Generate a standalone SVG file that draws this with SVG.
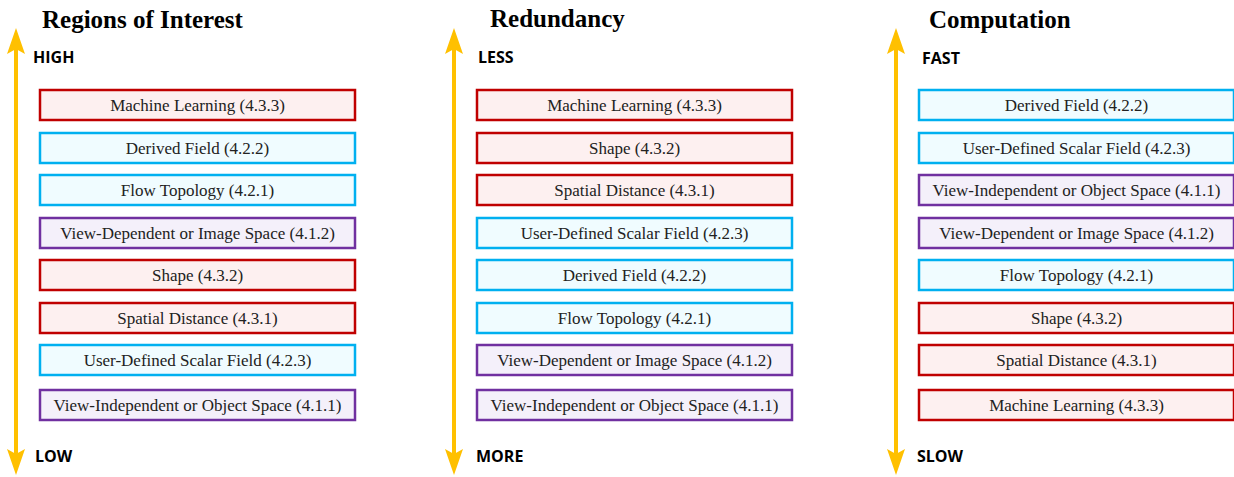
<svg xmlns="http://www.w3.org/2000/svg" width="1234" height="477" viewBox="0 0 1234 477">
<style>
.title{font-family:"Liberation Serif","Times New Roman",serif;font-weight:bold;font-size:25px;fill:#000}
.lab{font-family:"Open Sans","DejaVu Sans",sans-serif;font-weight:bold;font-size:16px;fill:#000}
.box{stroke-width:2.5}
.red{fill:#FDF0F0;stroke:#C00000}
.cyan{fill:#F0FCFF;stroke:#00B0F0}
.purple{fill:#F4F0FA;stroke:#7030A0}
.t{font-family:"Liberation Serif","Times New Roman",serif;font-size:17px;fill:#222;text-anchor:middle}
.axis{stroke:#FFC000;stroke-width:4;fill:none;marker-start:url(#ah);marker-end:url(#ah)}
</style>
<defs>
<marker id="ah" markerUnits="userSpaceOnUse" markerWidth="26" markerHeight="18" viewBox="0 0 26 18" refX="14" refY="9" orient="auto-start-reverse">
<path d="M0,0 L26,9 L0,18 L5,9 Z" fill="#FFC000"/>
</marker>
</defs>
<rect width="1234" height="477" fill="#fff"/>
<g id="connectors">
<line class="axis" x1="16" y1="40" x2="16" y2="463"/>
<line class="axis" x1="454" y1="40" x2="454" y2="463"/>
<line class="axis" x1="896" y1="40" x2="896" y2="463"/>
</g>
<g id="col1">
<text class="title" x="42" y="28">Regions of Interest</text>
<text class="lab" x="33" y="63">HIGH</text>
<text class="lab" x="35" y="462">LOW</text>
<g id="c1n1"><rect class="box red" x="40" y="90" width="315" height="30"/><text class="t" x="197.5" y="111">Machine Learning (4.3.3)</text></g>
<g id="c1n2"><rect class="box cyan" x="40" y="133" width="315" height="30"/><text class="t" x="197.5" y="154">Derived Field (4.2.2)</text></g>
<g id="c1n3"><rect class="box cyan" x="40" y="175" width="315" height="30"/><text class="t" x="197.5" y="196">Flow Topology (4.2.1)</text></g>
<g id="c1n4"><rect class="box purple" x="40" y="218" width="315" height="30"/><text class="t" x="197.5" y="239">View-Dependent or Image Space (4.1.2)</text></g>
<g id="c1n5"><rect class="box red" x="40" y="260" width="315" height="30"/><text class="t" x="197.5" y="281">Shape (4.3.2)</text></g>
<g id="c1n6"><rect class="box red" x="40" y="303" width="315" height="30"/><text class="t" x="197.5" y="324">Spatial Distance (4.3.1)</text></g>
<g id="c1n7"><rect class="box cyan" x="40" y="345" width="315" height="30"/><text class="t" x="197.5" y="366">User-Defined Scalar Field (4.2.3)</text></g>
<g id="c1n8"><rect class="box purple" x="40" y="390" width="315" height="30"/><text class="t" x="197.5" y="411">View-Independent or Object Space (4.1.1)</text></g>
</g>
<g id="col2">
<text class="title" x="490" y="27">Redundancy</text>
<text class="lab" x="478" y="63">LESS</text>
<text class="lab" x="476" y="462">MORE</text>
<g id="c2n1"><rect class="box red" x="477" y="90" width="315" height="30"/><text class="t" x="634.5" y="111">Machine Learning (4.3.3)</text></g>
<g id="c2n2"><rect class="box red" x="477" y="133" width="315" height="30"/><text class="t" x="634.5" y="154">Shape (4.3.2)</text></g>
<g id="c2n3"><rect class="box red" x="477" y="175" width="315" height="30"/><text class="t" x="634.5" y="196">Spatial Distance (4.3.1)</text></g>
<g id="c2n4"><rect class="box cyan" x="477" y="218" width="315" height="30"/><text class="t" x="634.5" y="239">User-Defined Scalar Field (4.2.3)</text></g>
<g id="c2n5"><rect class="box cyan" x="477" y="260" width="315" height="30"/><text class="t" x="634.5" y="281">Derived Field (4.2.2)</text></g>
<g id="c2n6"><rect class="box cyan" x="477" y="303" width="315" height="30"/><text class="t" x="634.5" y="324">Flow Topology (4.2.1)</text></g>
<g id="c2n7"><rect class="box purple" x="477" y="345" width="315" height="30"/><text class="t" x="634.5" y="366">View-Dependent or Image Space (4.1.2)</text></g>
<g id="c2n8"><rect class="box purple" x="477" y="390" width="315" height="30"/><text class="t" x="634.5" y="411">View-Independent or Object Space (4.1.1)</text></g>
</g>
<g id="col3">
<text class="title" x="929" y="28">Computation</text>
<text class="lab" x="922" y="64">FAST</text>
<text class="lab" x="917" y="462">SLOW</text>
<g id="c3n1"><rect class="box cyan" x="919" y="90" width="315" height="30"/><text class="t" x="1076.5" y="111">Derived Field (4.2.2)</text></g>
<g id="c3n2"><rect class="box cyan" x="919" y="133" width="315" height="30"/><text class="t" x="1076.5" y="154">User-Defined Scalar Field (4.2.3)</text></g>
<g id="c3n3"><rect class="box purple" x="919" y="175" width="315" height="30"/><text class="t" x="1076.5" y="196">View-Independent or Object Space (4.1.1)</text></g>
<g id="c3n4"><rect class="box purple" x="919" y="218" width="315" height="30"/><text class="t" x="1076.5" y="239">View-Dependent or Image Space (4.1.2)</text></g>
<g id="c3n5"><rect class="box cyan" x="919" y="260" width="315" height="30"/><text class="t" x="1076.5" y="281">Flow Topology (4.2.1)</text></g>
<g id="c3n6"><rect class="box red" x="919" y="303" width="315" height="30"/><text class="t" x="1076.5" y="324">Shape (4.3.2)</text></g>
<g id="c3n7"><rect class="box red" x="919" y="345" width="315" height="30"/><text class="t" x="1076.5" y="366">Spatial Distance (4.3.1)</text></g>
<g id="c3n8"><rect class="box red" x="919" y="390" width="315" height="30"/><text class="t" x="1076.5" y="411">Machine Learning (4.3.3)</text></g>
</g>
</svg>
